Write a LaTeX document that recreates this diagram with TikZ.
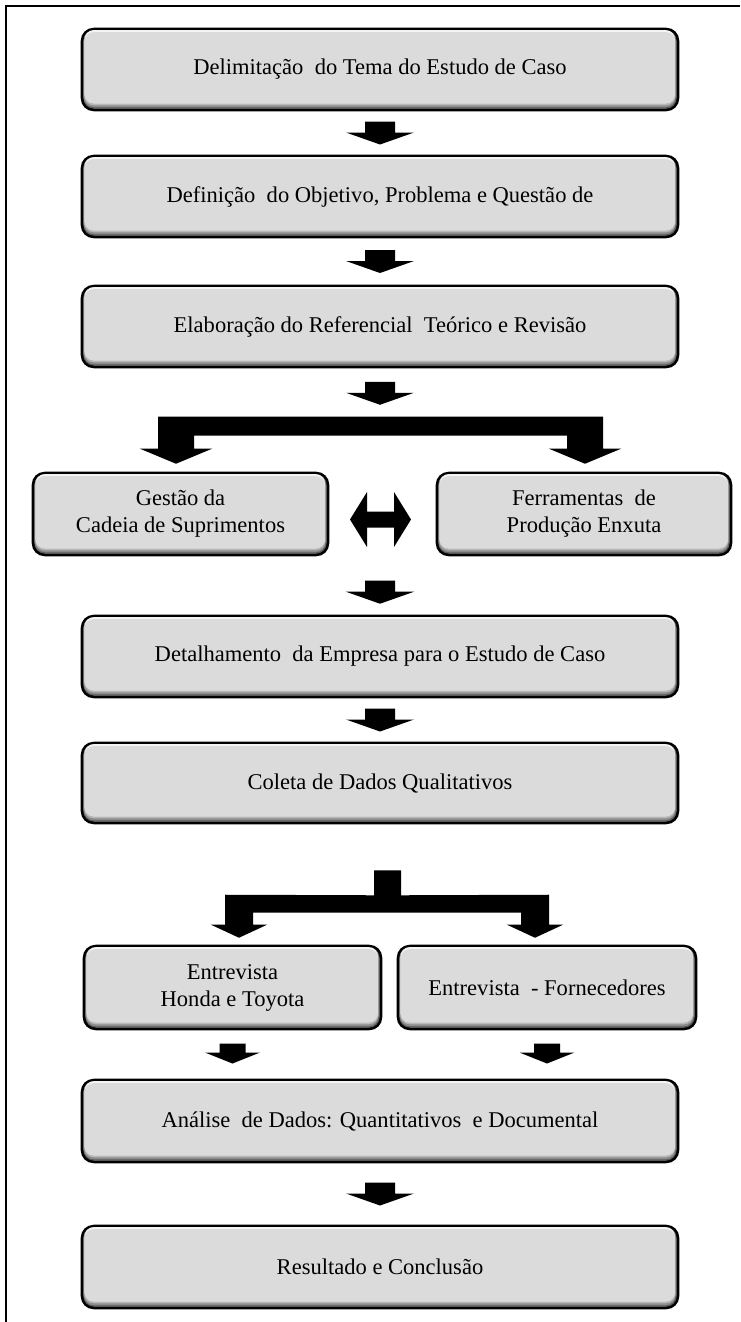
\documentclass[tikz,border=0pt]{standalone}
\usepackage{fontspec}
\setmainfont{Liberation Serif}
\usetikzlibrary{calc,backgrounds}

\definecolor{boxgray}{HTML}{DCDBDC}
\definecolor{boxlight}{HTML}{F4F4F4}

\tikzset{
  stepbox/.style={rectangle, inner sep=0pt, align=center,
    font=\fontsize{16.9}{20.3}\selectfont, text=black},
  boxsize/.style 2 args={minimum width=#1*0.75pt, minimum height=#2*0.75pt},
  blockarrow/.style={fill=black, draw=none},
  frameline/.style={line width=1.5pt, draw=black},
  pics/bigdown/.style={code={
    \fill[blockarrow] (-15,-11.5) -- (15,-11.5) -- (15,-0.5) -- (34,-0.5)
      -- (0,11.5) -- (-34,-0.5) -- (-15,-0.5) -- cycle;}},
  pics/smalldown/.style={code={
    \fill[blockarrow] (-13,-10) -- (13,-10) -- (13,-1) -- (27.5,-1)
      -- (0,10) -- (-27.5,-1) -- (-13,-1) -- cycle;}},
  pics/twoway/.style={code={
    \fill[blockarrow] (-30.5,0) -- (-13.5,-27.5) -- (-13.5,-8) -- (13.5,-8)
      -- (13.5,-27.5) -- (30.5,0) -- (13.5,27.5) -- (13.5,8) -- (-13.5,8)
      -- (-13.5,27.5) -- cycle;}},
}

% bevelled rounded frame drawn behind a box node
\newcommand\bevel[1]{%
  \begin{pgfonlayer}{background}
    \fill[black,rounded corners=9.75pt] (#1.north west) rectangle (#1.south east);
    \fill[black!65,rounded corners=8.2pt] ($(#1.north west)+(2.5,2.5)$) rectangle ($(#1.south east)+(-2.5,-2.5)$);
    \fill[black!45,rounded corners=7.6pt] ($(#1.north west)+(3,2.5)$) rectangle ($(#1.south east)+(-3.5,-4)$);
    \fill[black!28,rounded corners=7.1pt] ($(#1.north west)+(3.5,2.5)$) rectangle ($(#1.south east)+(-4,-6)$);
    \fill[boxlight,rounded corners=6.8pt] ($(#1.north west)+(4,2.5)$) rectangle ($(#1.south east)+(-4.5,-8)$);
    \fill[boxgray,rounded corners=6.4pt] ($(#1.north west)+(4,4.5)$) rectangle ($(#1.south east)+(-4.5,-8)$);
  \end{pgfonlayer}}

\begin{document}
\begin{tikzpicture}[x=0.75pt,y=-0.75pt]
  \useasboundingbox (0,0) rectangle (740,1322);
  \begin{pgfonlayer}{background}
    \fill[white] (0,0) rectangle (740,1322);
  \end{pgfonlayer}

  % outer frame
  \draw[frameline] (6,1322) -- (6,6) -- (740,6);

  % boxes
  \node[stepbox, boxsize={598}{83}] (b1) at (380,69.5) {Delimitação\ \ do Tema do Estudo de Caso};
  \bevel{b1}
  \node[stepbox, boxsize={598}{83}] (b2) at (380,196.5) {Definição\ \ do Objetivo, Problema e Questão de};
  \bevel{b2}
  \node[stepbox, boxsize={598}{83}] (b3) at (380,326.5) {Elaboração do Referencial\ \ Teórico e Revisão};
  \bevel{b3}
  \node[stepbox, boxsize={297}{84}] (bl) at (180.5,514) {Gestão da\\Cadeia de Suprimentos};
  \bevel{bl}
  \node[stepbox, boxsize={296}{84}] (br) at (584,514) {Ferramentas\ \ de\\Produção Enxuta};
  \bevel{br}
  \node[stepbox, boxsize={598}{83}] (b4) at (380,656.5) {Detalhamento\ \ da Empresa para o Estudo de Caso};
  \bevel{b4}
  \node[stepbox, boxsize={598}{82}] (b5) at (380,783) {Coleta de Dados Qualitativos};
  \bevel{b5}
  \node[stepbox, boxsize={299}{85}] (bL) at (232.5,987.5) {Entrevista\\Honda e Toyota};
  \bevel{bL}
  \node[stepbox, boxsize={300}{85}] (bR) at (547,987.5) {Entrevista\ \ - Fornecedores};
  \bevel{bR}
  \node[stepbox, boxsize={598}{84}] (b6) at (380,1121) {Análise\ \ de Dados: Quantitativos\ \ e Documental};
  \bevel{b6}
  \node[stepbox, boxsize={598}{84}] (b7) at (380,1267) {Resultado e Conclusão};
  \bevel{b7}

  % straight block arrows
  \pic (a1) at ($(b1.south)!0.5!(b2.north)$) {bigdown};
  \pic (a2) at ($(b2.south)!0.5!(b3.north)$) {bigdown};
  \pic (a3) at ($(b3.south)+(0,25)$) {bigdown};
  \pic (a4) at ($(b4.north)+(0,-22.5)$) {bigdown};
  \pic (a5) at ($(b4.south)!0.5!(b5.north)$) {bigdown};
  \pic (a6) at ($(b6.south)!0.5!(b7.north)$) {bigdown};

  % two-way arrow between the parallel topics
  \pic (dw) at ($(bl.east)!0.5!(br.west)+(-2,5.5)$) {twoway};

  % first fork: into the two topics
  \coordinate (t1l) at ($(bl.north)+(-4.5,-8)$);
  \coordinate (t1r) at ($(br.north)+(1,-8)$);
  \fill[blockarrow] ($(t1l)+(-18,-47)$) -- ($(t1r)+(18,-47)$) -- ($(t1r)+(18,-15)$)
    -- ($(t1r)+(36,-15)$) -- (t1r) -- ($(t1r)+(-36,-15)$) -- ($(t1r)+(-18,-15)$)
    -- ($(t1r)+(-18,-28)$) -- ($(t1l)+(18,-28)$) -- ($(t1l)+(18,-15)$)
    -- ($(t1l)+(36,-15)$) -- (t1l) -- ($(t1l)+(-36,-15)$) -- ($(t1l)+(-18,-15)$) -- cycle;

  % second fork: from data collection into the interviews
  \coordinate (st) at ($(b5.south)+(7.5,46)$);
  \coordinate (t2l) at ($(bL.north)+(6.5,-7)$);
  \coordinate (t2r) at ($(bR.north)+(-12,-7)$);
  \fill[blockarrow] ($(st)+(-13.5,0)$) -- ($(st)+(13.5,0)$) -- ($(st)+(13.5,25)$)
    -- ($(t2r)+(14,-43)$) -- ($(t2r)+(14,-13)$) -- ($(t2r)+(28,-13)$) -- (t2r)
    -- ($(t2r)+(-28,-13)$) -- ($(t2r)+(-14,-13)$) -- ($(t2r)+(-14,-25)$)
    -- ($(t2l)+(14,-25)$) -- ($(t2l)+(14,-13)$) -- ($(t2l)+(28,-13)$) -- (t2l)
    -- ($(t2l)+(-28,-13)$) -- ($(t2l)+(-14,-13)$) -- ($(t2l)+(-14,-43)$)
    -- ($(st)+(-13.5,25)$) -- cycle;

  % small arrows from the interviews into the analysis
  \pic (aL) at ($(bL.south)!0.5!(bL.south |- b6.north)+(0,-1)$) {smalldown};
  \pic (aR) at ($(bR.south)!0.5!(bR.south |- b6.north)+(0,-1)$) {smalldown};
\end{tikzpicture}
\end{document}
